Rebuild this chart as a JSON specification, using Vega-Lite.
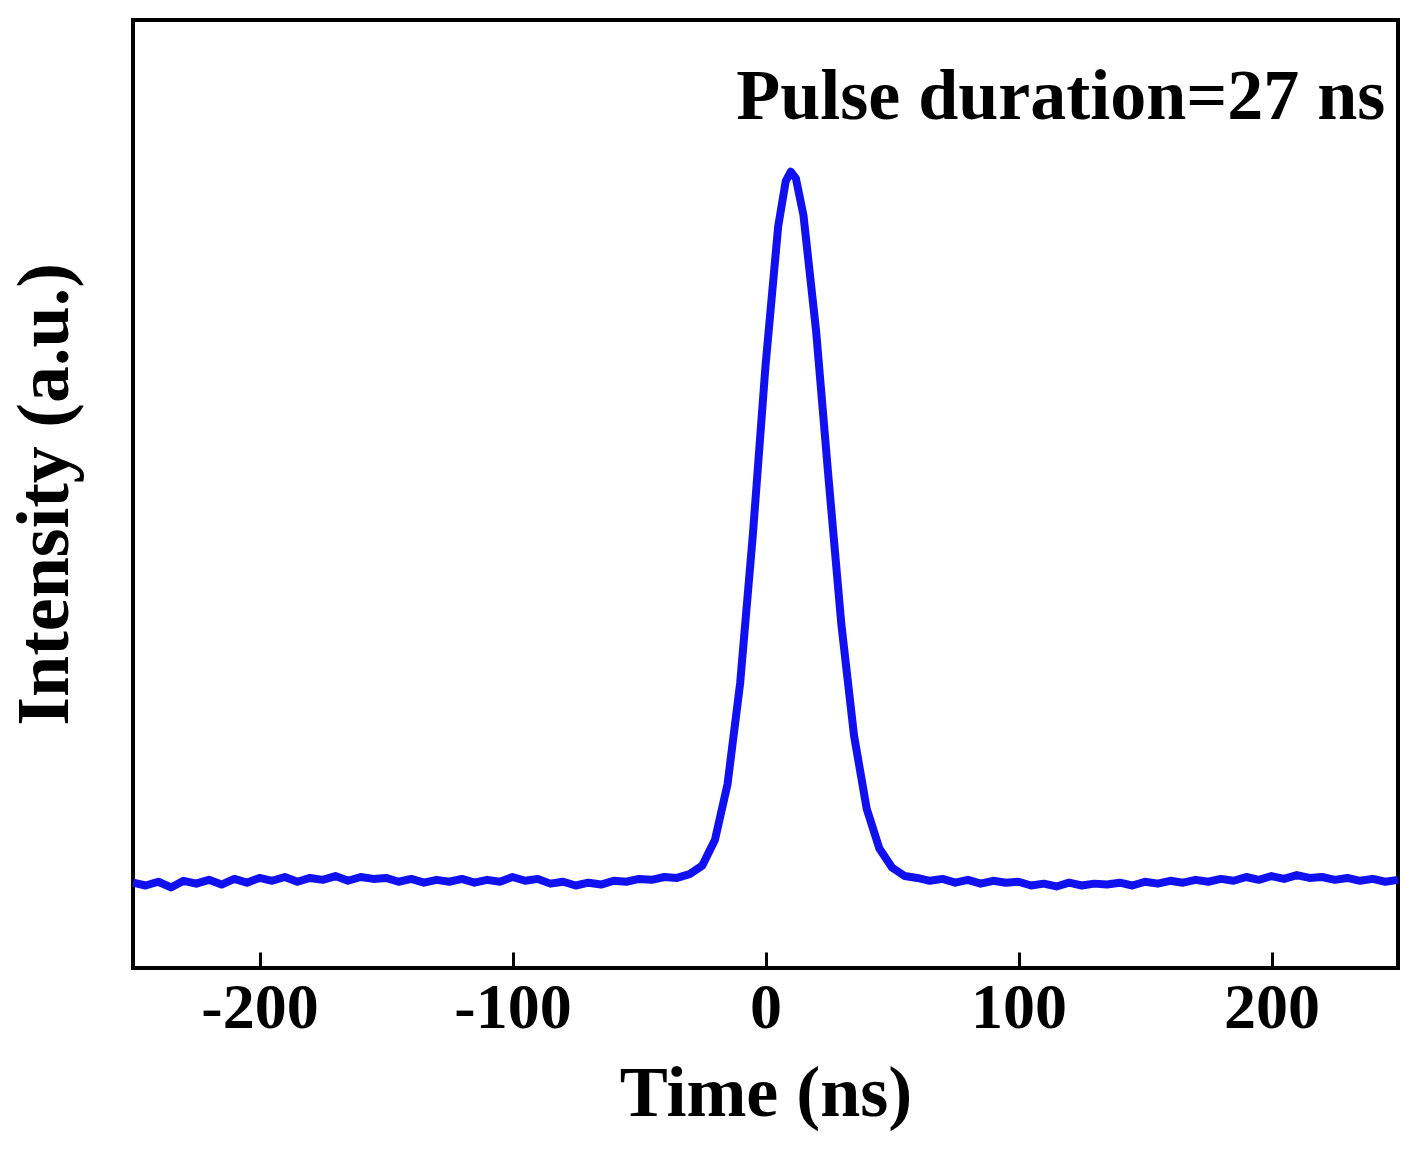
{
  "$schema": "https://vega.github.io/schema/vega-lite/v6.json",
  "autosize": "none",
  "width": 1265,
  "height": 948,
  "padding": {"left": 133, "top": 20, "right": 24, "bottom": 206},
  "background": "white",
  "config": {"view": {"stroke": "black", "strokeWidth": 4}},
  "datasets": {
    "pulse": [
      {"t": -250, "i": 0.090}, {"t": -245, "i": 0.087}, {"t": -240, "i": 0.091}, {"t": -235, "i": 0.085},
      {"t": -230, "i": 0.092}, {"t": -225, "i": 0.089}, {"t": -220, "i": 0.093}, {"t": -215, "i": 0.088},
      {"t": -210, "i": 0.094}, {"t": -205, "i": 0.090}, {"t": -200, "i": 0.095}, {"t": -195, "i": 0.092},
      {"t": -190, "i": 0.096}, {"t": -185, "i": 0.091}, {"t": -180, "i": 0.095}, {"t": -175, "i": 0.093},
      {"t": -170, "i": 0.097}, {"t": -165, "i": 0.092}, {"t": -160, "i": 0.096}, {"t": -155, "i": 0.094},
      {"t": -150, "i": 0.095}, {"t": -145, "i": 0.091}, {"t": -140, "i": 0.094}, {"t": -135, "i": 0.090},
      {"t": -130, "i": 0.093}, {"t": -125, "i": 0.091}, {"t": -120, "i": 0.094}, {"t": -115, "i": 0.090},
      {"t": -110, "i": 0.093}, {"t": -105, "i": 0.091}, {"t": -100, "i": 0.096}, {"t": -95, "i": 0.092},
      {"t": -90, "i": 0.094}, {"t": -85, "i": 0.089}, {"t": -80, "i": 0.091}, {"t": -75, "i": 0.087},
      {"t": -70, "i": 0.090}, {"t": -65, "i": 0.088}, {"t": -60, "i": 0.092}, {"t": -55, "i": 0.091},
      {"t": -50, "i": 0.094}, {"t": -45, "i": 0.093}, {"t": -40, "i": 0.096}, {"t": -35, "i": 0.095},
      {"t": -30, "i": 0.099}, {"t": -25, "i": 0.108}, {"t": -20, "i": 0.135}, {"t": -15, "i": 0.194},
      {"t": -10, "i": 0.301}, {"t": -5, "i": 0.457}, {"t": 0, "i": 0.635}, {"t": 5, "i": 0.782},
      {"t": 8, "i": 0.830}, {"t": 10, "i": 0.840}, {"t": 12, "i": 0.833}, {"t": 15, "i": 0.794},
      {"t": 20, "i": 0.672}, {"t": 25, "i": 0.514}, {"t": 30, "i": 0.362}, {"t": 35, "i": 0.245},
      {"t": 40, "i": 0.168}, {"t": 45, "i": 0.126}, {"t": 50, "i": 0.106}, {"t": 55, "i": 0.097},
      {"t": 60, "i": 0.095}, {"t": 65, "i": 0.092}, {"t": 70, "i": 0.094}, {"t": 75, "i": 0.090},
      {"t": 80, "i": 0.093}, {"t": 85, "i": 0.089}, {"t": 90, "i": 0.092}, {"t": 95, "i": 0.090},
      {"t": 100, "i": 0.091}, {"t": 105, "i": 0.087}, {"t": 110, "i": 0.089}, {"t": 115, "i": 0.086},
      {"t": 120, "i": 0.090}, {"t": 125, "i": 0.087}, {"t": 130, "i": 0.089}, {"t": 135, "i": 0.088},
      {"t": 140, "i": 0.090}, {"t": 145, "i": 0.087}, {"t": 150, "i": 0.091}, {"t": 155, "i": 0.089},
      {"t": 160, "i": 0.092}, {"t": 165, "i": 0.090}, {"t": 170, "i": 0.093}, {"t": 175, "i": 0.091},
      {"t": 180, "i": 0.094}, {"t": 185, "i": 0.092}, {"t": 190, "i": 0.096}, {"t": 195, "i": 0.093},
      {"t": 200, "i": 0.097}, {"t": 205, "i": 0.094}, {"t": 210, "i": 0.098}, {"t": 215, "i": 0.095},
      {"t": 220, "i": 0.096}, {"t": 225, "i": 0.093}, {"t": 230, "i": 0.095}, {"t": 235, "i": 0.092},
      {"t": 240, "i": 0.094}, {"t": 245, "i": 0.091}, {"t": 250, "i": 0.093}
    ],
    "note": [{"t": 245, "i": 0.919, "label": "Pulse duration=27 ns"}]
  },
  "layer": [
    {
      "data": {"name": "pulse"},
      "mark": {"type": "line", "color": "#1010f0", "strokeWidth": 8, "strokeJoin": "round"},
      "encoding": {
        "x": {
          "field": "t", "type": "quantitative",
          "scale": {"domain": [-250, 250], "nice": false},
          "title": "Time (ns)",
          "axis": {
            "values": [-200, -100, 0, 100, 200],
            "labelExpr": "replace(datum.label, '−', '-')",
            "grid": false, "domain": false,
            "tickSize": -16, "tickWidth": 3, "tickColor": "black",
            "labelFont": "Liberation Serif", "labelFontWeight": "bold", "labelFontSize": 64,
            "labelColor": "black", "labelPadding": 24,
            "titleFont": "Liberation Serif", "titleFontWeight": "bold", "titleFontSize": 72,
            "titleColor": "black", "titlePadding": 18
          }
        },
        "y": {
          "field": "i", "type": "quantitative",
          "scale": {"domain": [0, 1], "nice": false},
          "title": "Intensity (a.u.)",
          "axis": {
            "grid": false, "domain": false, "ticks": false, "labels": false,
            "titleFont": "Liberation Serif", "titleFontWeight": "bold", "titleFontSize": 74,
            "titleColor": "black", "titlePadding": 50
          }
        }
      }
    },
    {
      "data": {"name": "note"},
      "mark": {"type": "text", "align": "right", "baseline": "middle", "font": "Liberation Serif", "fontWeight": "bold", "fontSize": 72, "color": "black"},
      "encoding": {
        "x": {"field": "t", "type": "quantitative"},
        "y": {"field": "i", "type": "quantitative"},
        "text": {"field": "label"}
      }
    }
  ]
}
